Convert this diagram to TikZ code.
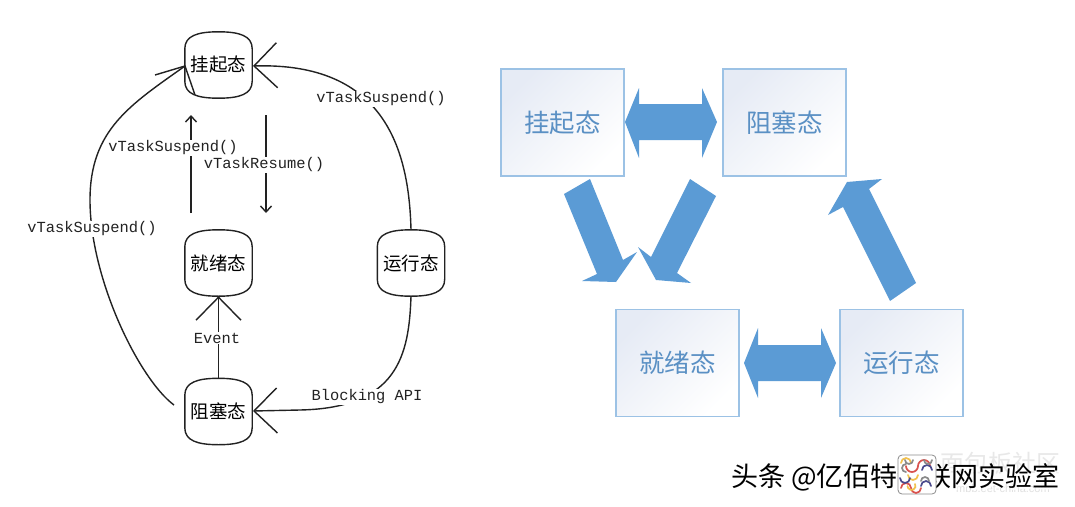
\documentclass[tikz,border=0pt]{standalone}
\usepackage{fontspec}
\usetikzlibrary{arrows.meta,calc}
\setmainfont{Liberation Sans}
\setmonofont{Liberation Mono}
\newfontfamily\cjk{Noto Sans CJK SC}
\definecolor{inkdark}{HTML}{222222}
\definecolor{flowblue}{HTML}{5B9BD5}
\definecolor{boxedge}{HTML}{9CC2E5}
\definecolor{boxtext}{HTML}{5A90C4}
\definecolor{boxtint}{HTML}{E6EBF5}
\definecolor{logored}{HTML}{D9534F}
\definecolor{logoyellow}{HTML}{F2C14E}
\definecolor{logonavy}{HTML}{4A4A8C}
\definecolor{loggrey}{HTML}{8A8A8A}
\tikzset{
  x=1pt, y=-1pt,
  wire/.style={draw=inkdark, line width=1.4pt},
  openhead/.style={-{Straight Barb[length=23pt,width=45pt,line width=1.4pt]}},
  smallhead/.style={-{Straight Barb[length=6pt,width=11pt,line width=1.4pt]}},
  statelabel/.style={font=\cjk\fontsize{18.5}{20}\selectfont, text=black, inner sep=0pt},
  callname/.style={font=\ttfamily\fontsize{15.4}{17}\selectfont, text=inkdark, fill=white, inner sep=1.2pt},
  stateholder/.style={minimum width=67pt, minimum height=66pt, inner sep=0pt},
  bluebox/.style={draw=boxedge, line width=1.1pt, minimum width=123pt, minimum height=107pt,
    inner sep=0pt, top color=boxtint, middle color=white, bottom color=white, shading angle=45,
    font=\cjk\fontsize{25.5}{27}\selectfont, text=boxtext},
  bluearrow/.style={fill=flowblue, draw=none},
  captionfont/.style={font=\cjk\fontsize{27}{29}\selectfont, inner sep=0pt, anchor=east},
}
% Rounded state outline around a named holder node
\newcommand{\stateshape}[1]{%
  \draw[wire] ($(#1.north west)+(0,17)$)
    .. controls +(0,-13) and +(-21,0) .. (#1.north)
    .. controls +(21,0) and +(0,-13) .. ($(#1.north east)+(0,17)$)
    -- ($(#1.south east)+(0,-17)$)
    .. controls +(0,13) and +(21,0) .. (#1.south)
    .. controls +(-21,0) and +(0,13) .. ($(#1.south west)+(0,-17)$)
    -- cycle;}
\begin{document}
\begin{tikzpicture}
\useasboundingbox (0,0) rectangle (1075,506);
\fill[white] (0,0) rectangle (1075,506);

% Left panel: state nodes
\node[stateholder] (lsusp) at (218.5,65) {};
\node[stateholder] (lready) at (218.5,263) {};
\node[stateholder] (lrun) at (411,263) {};
\node[stateholder] (lblock) at (218.5,411.5) {};
\foreach \n in {lsusp,lready,lrun,lblock} {\stateshape{\n}}
\node[statelabel] at (lsusp) {挂起态};
\node[statelabel] at (lready) {就绪态};
\node[statelabel] at (lrun) {运行态};
\node[statelabel] at (lblock) {阻塞态};

% Left panel: transitions
\coordinate (suspL) at (185,66);
\coordinate (suspR) at (253,66);
\coordinate (blockR) at (253,411);
\coordinate (blockL) at (174,405);
\coordinate (barbA) at (155,75);
\coordinate (barbB) at (195,95);
\coordinate (upS) at (191,213);
\coordinate (upE) at (191,115);
\coordinate (downS) at (266,115);
\coordinate (downE) at (266,213);

\draw[wire,openhead] (lrun.north) .. controls (409,150) and (385,62) .. (suspR);
\draw[wire,openhead] (lrun.south) .. controls (409,355) and (398,408) .. (300,410) -- (blockR);
\draw[wire] (blockL) .. controls (140,380) and (90,280) .. (90,200)
  .. controls (90,130) and (130,105) .. (suspL);
\draw[wire] (barbA) -- (suspL) -- (barbB);
\draw[wire,openhead] (lblock.north) -- (lready.south);
\draw[wire,smallhead] (upS) -- (upE);
\draw[wire,smallhead] (downS) -- (downE);

\node[callname] (l1) at (381,99) {vTaskSuspend()};
\node[callname] (l2) at (173,148) {vTaskSuspend()};
\node[callname] (l3) at (264,165) {vTaskResume()};
\node[callname] (l4) at (92,229) {vTaskSuspend()};
\node[callname] (l5) at (217,338) {Event};
\node[callname] (l6) at (367,397) {Blocking API};

% Right panel: state boxes
\node[bluebox] (rsusp) at (562.5,122.5) {挂起态};
\node[bluebox] (rblock) at (784.5,122.5) {阻塞态};
\node[bluebox] (rready) at (677.5,363) {就绪态};
\node[bluebox] (rrun) at (901.5,363) {运行态};

% Right panel: block arrows
\fill[bluearrow] (625,122) -- (639,88) -- (639,104) -- (702,104) -- (702,88) -- (717,122)
  -- (702,158) -- (702,140) -- (639,140) -- (639,158) -- cycle;
\fill[bluearrow] (744,363) -- (758,328) -- (758,345) -- (821,345) -- (821,328) -- (836,363)
  -- (821,398) -- (821,381) -- (758,381) -- (758,398) -- cycle;
\fill[bluearrow] (564,194) -- (590,179) -- (623,260) -- (637,252) -- (616,282) -- (582,281) -- (597,274) -- cycle;
\fill[bluearrow] (690,179) -- (716,196) -- (677,273) -- (691,283) -- (656,280) -- (638,247) -- (651,257) -- cycle;
\fill[bluearrow] (847,182) -- (882,179) -- (869,189) -- (916,283) -- (890,301) -- (843,207) -- (828,215) -- cycle;

% Faint site mark behind the caption
\node[font=\cjk\fontsize{24}{26}\selectfont, text=black!9, inner sep=0pt] at (1000,463) {面包板社区};
\node[font=\fontsize{11}{12}\selectfont, text=black!12, inner sep=0pt] at (1003,489) {mbb.eet-china.com};

% Caption with a soft white edge
\node[captionfont, text=white] at (1061.5,479) {头条 @亿佰特物联网实验室};
\node[captionfont, text=black] (caption) at (1060,477) {头条 @亿佰特物联网实验室};

% Logo tile
\fill[white, draw=black!45, line width=0.8pt, rounded corners=4pt] (898,455) rectangle (936,494);
\begin{scope}[line width=1.7pt, line cap=round]
  \draw[logored] (906,466) arc[start angle=180,end angle=0,radius=6];
  \draw[logored] (918,466) arc[start angle=180,end angle=360,radius=6];
  \draw[logored] (901,488) arc[start angle=180,end angle=360,radius=5];
  \draw[logored] (911,488) arc[start angle=180,end angle=0,radius=5];
  \draw[logoyellow] (901,463) arc[start angle=180,end angle=360,radius=5];
  \draw[logoyellow] (918,475) arc[start angle=0,end angle=180,radius=5];
  \draw[logoyellow] (915,484) arc[start angle=-30,end angle=180,radius=4];
  \draw[logonavy] (922,470) arc[start angle=180,end angle=360,radius=5];
  \draw[logonavy] (900,478) arc[start angle=180,end angle=0,radius=5];
  \draw[logonavy] (921,486) arc[start angle=180,end angle=360,radius=5];
  \draw[loggrey] (905,460) arc[start angle=180,end angle=0,radius=4];
  \draw[loggrey] (924,460) arc[start angle=180,end angle=0,radius=4];
  \draw[loggrey] (906,472) arc[start angle=90,end angle=270,radius=4];
  \draw[loggrey] (921,481) arc[start angle=180,end angle=360,radius=4];
\end{scope}
\end{tikzpicture}
\end{document}
